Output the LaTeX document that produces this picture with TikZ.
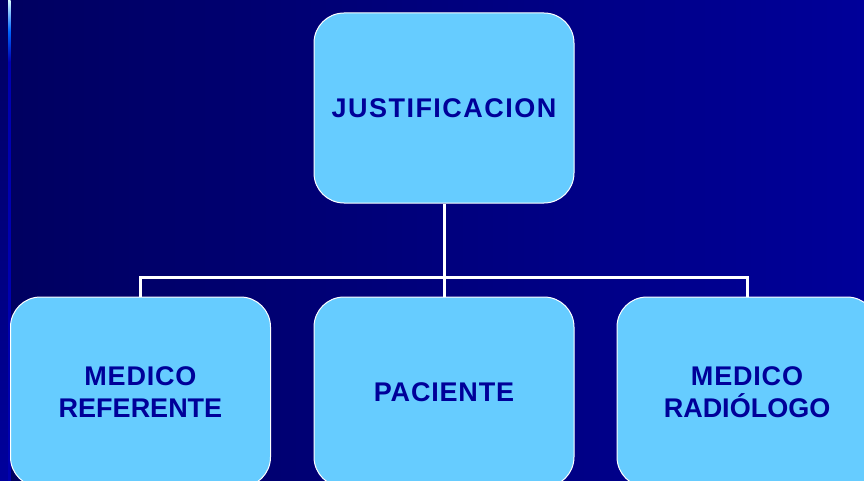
\documentclass[tikz,border=0pt]{standalone}
\usepackage{fontspec}
\setmainfont{Liberation Sans}
\definecolor{boxfill}{HTML}{66CCFF}
\definecolor{txt}{HTML}{000099}
\definecolor{bgl}{HTML}{000060}
\definecolor{bgr}{HTML}{000099}
\definecolor{stripb}{HTML}{00009C}
\definecolor{lineb}{HTML}{0000B0}
\begin{document}
\begin{tikzpicture}[x=1pt,y=-1pt,
  box/.style={draw=white, line width=1pt, fill=boxfill, rounded corners=30pt,
    minimum width=260pt, minimum height=190pt, inner sep=0pt, text=txt,
    font=\fontsize{27}{32}\selectfont\bfseries, align=center},
  conn/.style={draw=white, line width=3pt}]
\useasboundingbox (0,0) rectangle (864,481);
\begin{scope}
\clip (0,0) rectangle (864,481);
\shade[left color=bgl, right color=bgr] (0,0) rectangle (864,481);
\shade[top color=bgl, bottom color=stripb] (0,0) rectangle (8,481);
\fill[lineb] (8,60) rectangle (10.5,481);
\shade[top color=white!85!cyan, bottom color=lineb, middle color=blue!60!cyan] (8,0) rectangle (10.5,62);
\node[box] (top) at (444,108) {\addfontfeature{LetterSpace=5.5}JUSTIFICACION};
\node[box] (ref) at (140.5,392) {\addfontfeature{LetterSpace=3}MEDICO\\REFERENTE};
\node[box] (pac) at (444,392) {\addfontfeature{LetterSpace=3}PACIENTE};
\node[box] (rad) at (747,392) {\addfontfeature{LetterSpace=3}MEDICO\\RADIÓLOGO};
\coordinate (bus) at (444,277.5);
\draw[conn] (top.south) -- (pac.north);
\draw[conn] (ref.north) -- (ref.north |- bus) -- (rad.north |- bus) -- (rad.north);
\end{scope}
\end{tikzpicture}
\end{document}
